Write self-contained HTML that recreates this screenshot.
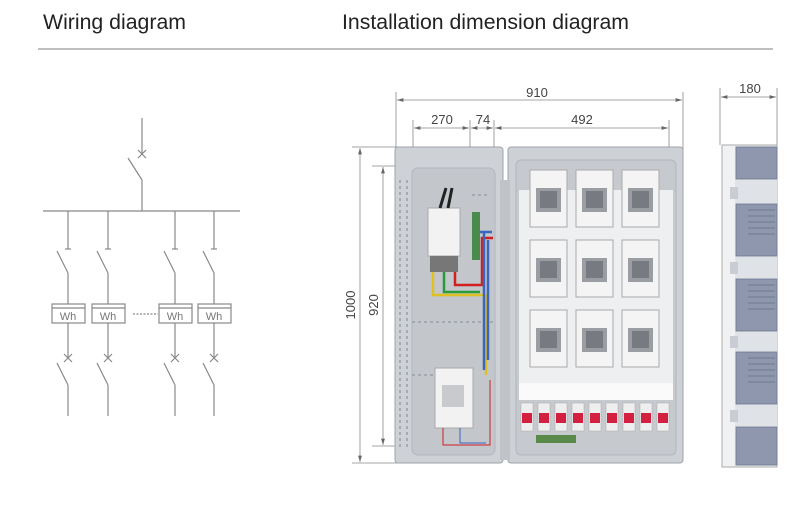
<!DOCTYPE html>
<html><head><meta charset="utf-8"><style>
html,body{margin:0;padding:0;background:#fff;width:800px;height:515px;overflow:hidden}
svg{display:block}
text{font-family:"Liberation Sans",sans-serif}
</style></head><body>
<svg width="800" height="515" viewBox="0 0 800 515" xmlns="http://www.w3.org/2000/svg">
<defs>
<marker id="a" viewBox="0 0 10 6" refX="10" refY="3" markerWidth="8" markerHeight="5" orient="auto-start-reverse"><path d="M0,0L10,3L0,6z" fill="#666"/></marker>
</defs>
<text x="43" y="29" font-size="21" fill="#222" textLength="143" lengthAdjust="spacingAndGlyphs">Wiring diagram</text>
<text x="342" y="29" font-size="21" fill="#222" textLength="287" lengthAdjust="spacingAndGlyphs">Installation dimension diagram</text>
<line x1="38" y1="49" x2="773" y2="49" stroke="#999" stroke-width="1.2"/>

<!-- wiring diagram -->
<g stroke="#888" stroke-width="1.2" fill="none">
<line x1="142" y1="118" x2="142" y2="154"/>
<path d="M138,150l8,8M146,150l-8,8"/>
<line x1="128" y1="158" x2="142" y2="180"/>
<line x1="142" y1="180" x2="142" y2="211"/>
<line x1="43" y1="211" x2="240" y2="211"/>
<g id="br">
<line x1="68" y1="211" x2="68" y2="249"/>
<line x1="65" y1="249" x2="71" y2="249"/>
<line x1="57" y1="251" x2="68" y2="273"/>
<line x1="68" y1="273" x2="68" y2="304"/>
<rect x="52" y="304" width="33" height="19" fill="#fff"/>
<line x1="52" y1="308" x2="85" y2="308"/>
<line x1="68" y1="323" x2="68" y2="358"/>
<path d="M64,354l8,8M72,354l-8,8"/>
<line x1="57" y1="363" x2="68" y2="385"/>
<line x1="68" y1="385" x2="68" y2="416"/>
</g>
<use href="#br" x="40"/>
<use href="#br" x="107"/>
<use href="#br" x="146"/>
<line x1="133" y1="314" x2="158" y2="314" stroke-dasharray="2,1.5"/>
</g>
<g font-size="11" fill="#777" text-anchor="middle">
<text x="68" y="320">Wh</text><text x="108" y="320">Wh</text><text x="175" y="320">Wh</text><text x="214" y="320">Wh</text>
</g>

<!-- dimensions -->
<g stroke="#888" stroke-width="0.8" fill="none">
<line x1="396" y1="92" x2="396" y2="150"/><line x1="683" y1="92" x2="683" y2="150"/>
<line x1="397" y1="100" x2="682" y2="100" marker-start="url(#a)" marker-end="url(#a)"/>
<line x1="413" y1="120" x2="413" y2="168"/><line x1="470" y1="120" x2="470" y2="168"/><line x1="494" y1="120" x2="494" y2="168"/><line x1="669" y1="120" x2="669" y2="168"/>
<line x1="414" y1="128" x2="469" y2="128" marker-start="url(#a)" marker-end="url(#a)"/>
<line x1="471" y1="128" x2="493" y2="128" marker-start="url(#a)" marker-end="url(#a)"/>
<line x1="495" y1="128" x2="668" y2="128" marker-start="url(#a)" marker-end="url(#a)"/>
<line x1="352" y1="147" x2="400" y2="147"/><line x1="352" y1="463" x2="400" y2="463"/>
<line x1="360" y1="148" x2="360" y2="462" marker-start="url(#a)" marker-end="url(#a)"/>
<line x1="372" y1="166" x2="412" y2="166"/><line x1="372" y1="446" x2="412" y2="446"/>
<line x1="383" y1="167" x2="383" y2="445" marker-start="url(#a)" marker-end="url(#a)"/>
<line x1="720" y1="88" x2="720" y2="145"/><line x1="777" y1="88" x2="777" y2="145"/>
<line x1="721" y1="97" x2="776" y2="97" marker-start="url(#a)" marker-end="url(#a)"/>
</g>
<g font-size="13" fill="#444" text-anchor="middle">
<text x="537" y="97">910</text>
<text x="442" y="124">270</text><text x="483" y="124">74</text><text x="582" y="124">492</text>
<text x="750" y="93">180</text>
<text transform="translate(355,305) rotate(-90)">1000</text>
<text transform="translate(378,305) rotate(-90)">920</text>
</g>

<!-- left door -->
<rect x="395" y="147" width="108" height="316" rx="3" fill="#ced1d6" stroke="#9fa4ab"/>
<rect x="412" y="168" width="83" height="287" rx="6" fill="#c3c6cb" stroke="#b3b7bd"/>
<g stroke="#9aa0a8" stroke-width="1.5" stroke-dasharray="3,3">
<line x1="400" y1="180" x2="400" y2="450"/><line x1="407" y1="180" x2="407" y2="450"/>
<line x1="472" y1="195" x2="490" y2="195"/><line x1="412" y1="322" x2="495" y2="322"/><line x1="412" y1="375" x2="470" y2="375"/>
</g>
<rect x="428" y="208" width="32" height="48" fill="#f2f2f2" stroke="#aaa"/>
<rect x="430" y="256" width="28" height="16" fill="#777"/>
<path d="M440,208l6,-20M448,208l4,-20" stroke="#222" stroke-width="3"/>
<rect x="472" y="212" width="8" height="48" fill="#4a8a4a"/>
<g fill="none" stroke-width="2.5">
<path d="M433,272V295H486V375" stroke="#e0c020"/>
<path d="M444,272V292H480" stroke="#2a9a3a"/>
<path d="M455,272V285H482V238H493" stroke="#d02020"/>
<path d="M480,232H492M484,232V370" stroke="#3a66c0"/>
<path d="M488,240V360" stroke="#3a66c0"/>
</g>
<rect x="435" y="368" width="38" height="60" fill="#f2f2f2" stroke="#aaa"/>
<rect x="442" y="385" width="22" height="22" fill="#c8cacd"/>
<path d="M443,428V445H490V380" fill="none" stroke="#d02020" stroke-width="1"/>
<path d="M460,428V443H486" fill="none" stroke="#3a66c0" stroke-width="1"/>

<!-- right door -->
<rect x="508" y="147" width="175" height="316" rx="3" fill="#cdd0d5" stroke="#9fa4ab"/>
<rect x="516" y="160" width="160" height="295" rx="5" fill="#c6c9ce" stroke="#b3b7bd"/>
<rect x="519" y="190" width="154" height="210" fill="#eeeff1"/>
<g id="m">
<rect x="530" y="170" width="37" height="57" fill="#f4f4f4" stroke="#aaa"/>
<rect x="536" y="188" width="25" height="24" fill="#9a9da2"/>
<rect x="540" y="191" width="17" height="17" fill="#777a80"/>
</g>
<use href="#m" x="46"/><use href="#m" x="92"/>
<use href="#m" y="70"/><use href="#m" x="46" y="70"/><use href="#m" x="92" y="70"/>
<use href="#m" y="140"/><use href="#m" x="46" y="140"/><use href="#m" x="92" y="140"/>
<rect x="519" y="383" width="154" height="17" fill="#fafafa"/>
<g id="b"><rect x="521" y="403" width="12" height="28" fill="#eee" stroke="#aaa" stroke-width="0.5"/><rect x="522" y="413" width="10" height="10" fill="#d42040"/></g>
<use href="#b" x="17"/><use href="#b" x="34"/><use href="#b" x="51"/><use href="#b" x="68"/><use href="#b" x="85"/><use href="#b" x="102"/><use href="#b" x="119"/><use href="#b" x="136"/>
<rect x="536" y="435" width="40" height="8" fill="#5a8a4a"/>
<rect x="500" y="180" width="10" height="280" fill="#c0c3c8"/>

<!-- side view -->
<rect x="722" y="145" width="55" height="322" fill="#f0f1f3" stroke="#aaa"/>
<rect x="735" y="146" width="42" height="320" fill="#dfe2e7"/>
<g fill="#8e97ad" stroke="#6f7891" stroke-width="0.8">
<rect x="736" y="147" width="41" height="32"/>
<rect x="736" y="204" width="41" height="52"/>
<rect x="736" y="279" width="41" height="52"/>
<rect x="736" y="352" width="41" height="52"/>
<rect x="736" y="427" width="41" height="38"/>
</g>
<g fill="#c9ccd2"><rect x="730" y="187" width="8" height="12"/><rect x="730" y="262" width="8" height="12"/><rect x="730" y="336" width="8" height="12"/><rect x="730" y="410" width="8" height="12"/></g>
<g stroke="#6f7891" stroke-width="1">
<path d="M748,210H775M748,216H775M748,222H775M748,228H775M748,234H775"/>
<path d="M748,285H775M748,291H775M748,297H775M748,303H775M748,309H775"/>
<path d="M748,358H775M748,364H775M748,370H775M748,376H775M748,382H775"/>
</g>
</svg>
</body></html>
